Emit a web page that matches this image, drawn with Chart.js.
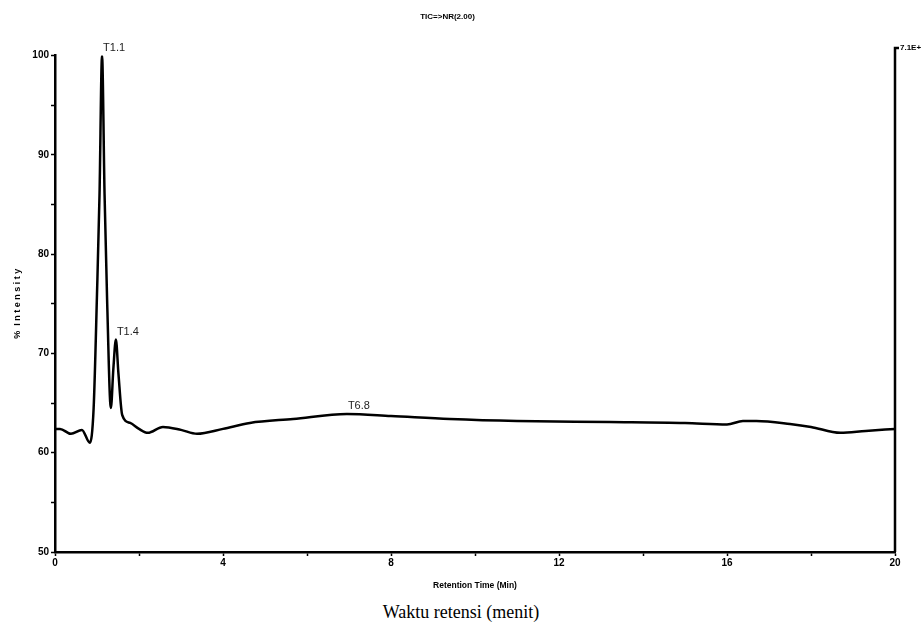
<!DOCTYPE html>
<html>
<head>
<meta charset="utf-8">
<script src="https://cdn.jsdelivr.net/npm/chart.js@4.4.1/dist/chart.umd.min.js"></script>
<style>
body { margin: 0; background: #fff; }
#wrap { position: relative; width: 922px; height: 639px; }
#note {
    position: absolute; left: 0; top: 602px; width: 922px; text-align: center;
    font-family: "Liberation Serif", "Times New Roman", serif; font-size: 18px; color: #000;
}
</style>
</head>
<body>
<div id="wrap">
    <canvas id="chartCanvas" style="width:922px;height:600px"></canvas>
    <div id="note">Waktu retensi (menit)</div>
</div>
<script>
// TIC trace: retention time (min) vs % intensity
var times = [0, 0.12, 0.38, 0.64, 0.83, 0.92, 1.0, 1.06, 1.12, 1.18, 1.24, 1.33, 1.39, 1.45, 1.51, 1.6,
             1.79, 2.0, 2.21, 2.57, 3.0, 3.38, 4.0, 4.64, 5.67, 6.95, 8, 9.4, 11, 13.2, 15, 16,
             16.38, 16.7, 17.5, 18.0, 18.7, 19.3, 20];
var intensity = [62.4, 62.4, 61.9, 62.3, 61.0, 64.5, 76, 86, 100, 86, 75.5, 64.5, 68.5, 71.4, 68, 63.8,
                 63.0, 62.4, 62.0, 62.6, 62.3, 61.9, 62.4, 63.0, 63.4, 63.9, 63.7, 63.4, 63.2, 63.1, 63.0, 62.85,
                 63.2, 63.2, 62.9, 62.6, 62.0, 62.2, 62.4];

var peak_times = [1.12, 1.45, 6.95];
var peak_labels = ["T1.1", "T1.4", "T6.8"];

var x_tick_labels = [0, 4, 8, 12, 16, 20];
var y_tick_labels = [50, 60, 70, 80, 90, 100];

var sans = '"Liberation Sans", Arial, sans-serif';

const points = times.map(function(t, i) { return {x: t, y: intensity[i]}; });

// peak names over the peaks, plus the right-hand frame with its scale note
const extras = {
    id: "extras",
    afterDatasetsDraw: function(chart) {
        const ctx = chart.ctx;
        const xs = chart.scales.x, ys = chart.scales.y;
        ctx.save();
        ctx.font = "11px " + sans;
        ctx.fillStyle = "#222";
        ctx.textBaseline = "middle";
        ctx.textAlign = "left";
        peak_times.forEach(function(t, i) {
            const v = intensity[times.indexOf(t)];
            ctx.fillText(peak_labels[i], xs.getPixelForValue(t) + 1, ys.getPixelForValue(v) - 8);
        });

        const right = chart.chartArea.right;
        ctx.strokeStyle = "#000";
        ctx.lineWidth = 2.5;
        ctx.beginPath();
        ctx.moveTo(right + 4, 48);
        ctx.lineTo(right, 48);
        ctx.lineTo(right, chart.chartArea.bottom);
        ctx.stroke();
        ctx.font = "bold 8px " + sans;
        ctx.fillStyle = "#000";
        ctx.fillText("7.1E+", right + 5, 48);
        ctx.restore();
    }
};

const chart = new Chart(document.getElementById("chartCanvas"), {
    type: "scatter",
    data: {
        datasets: [{
            data: points,
            showLine: true,
            borderColor: "#000",
            borderWidth: 2.5,
            pointRadius: 0,
            cubicInterpolationMode: "monotone",
            fill: false
        }]
    },
    options: {
        responsive: false,
        animation: false,
        layout: {padding: {left: 0, right: 27, top: 0, bottom: 0}},
        plugins: {
            legend: {display: false},
            tooltip: {enabled: false},
            title: {
                display: true,
                text: "TIC=>NR(2.00)",
                color: "#000",
                font: {family: sans, size: 8, weight: "bold"},
                padding: {top: 12, bottom: 34}
            }
        },
        scales: {
            x: {
                type: "linear",
                min: 0, max: 20,
                afterFit: function(scale) { scale.height = 48; },
                grid: {drawOnChartArea: false, drawTicks: true, tickLength: 4, color: "#000", tickWidth: 1.5},
                border: {display: true, color: "#000", width: 2.5},
                ticks: {
                    stepSize: 2,
                    color: "#000",
                    padding: 1,
                    maxRotation: 0,
                    font: {family: sans, size: 10, weight: "bold"},
                    callback: function(v) { return x_tick_labels.includes(v) ? v : ""; }
                },
                title: {
                    display: true,
                    text: "Retention Time (Min)",
                    color: "#000",
                    font: {family: sans, size: 8.5, weight: "bold"},
                    padding: {top: 0, bottom: 9}
                }
            },
            y: {
                min: 50, max: 100,
                afterFit: function(scale) { scale.width = 55; },
                grid: {drawOnChartArea: false, drawTicks: true, tickLength: 4, color: "#000", tickWidth: 1.5},
                border: {display: true, color: "#000", width: 2.5},
                ticks: {
                    stepSize: 5,
                    color: "#000",
                    padding: 2,
                    font: {family: sans, size: 10, weight: "bold"},
                    callback: function(v) { return y_tick_labels.includes(v) ? v : ""; }
                },
                title: {
                    display: true,
                    text: "%  I n t e n s i t y",
                    color: "#000",
                    font: {family: sans, size: 9, weight: "bold"},
                    padding: {top: 12, bottom: 0}
                }
            }
        }
    },
    plugins: [extras]
});
</script>
</body>
</html>
